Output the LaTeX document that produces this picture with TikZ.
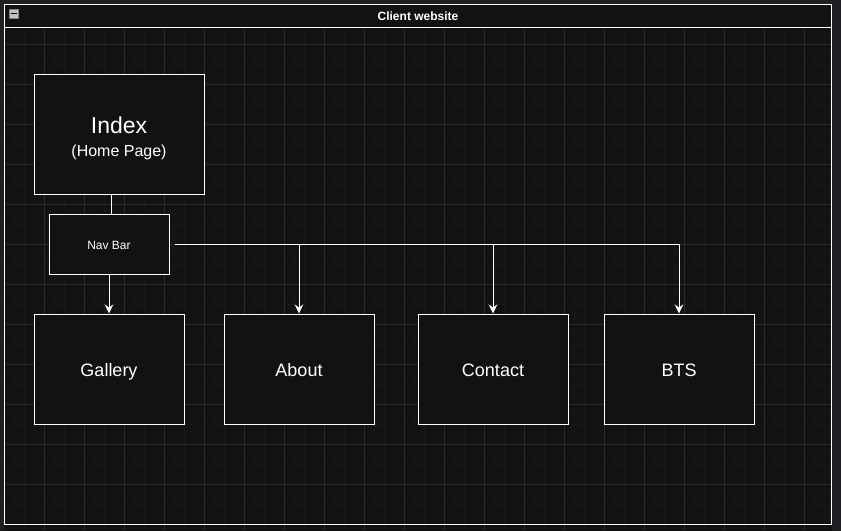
\documentclass[tikz,border=0pt]{standalone}
\usepackage{fontspec}
\setmainfont{Liberation Sans}
\usetikzlibrary{arrows.meta}
\usetikzlibrary{positioning}

\definecolor{canvas}{HTML}{121212}
\definecolor{edgegray}{HTML}{1E1F22}
\definecolor{minorgrid}{HTML}{181818}
\definecolor{majorgrid}{HTML}{2A2A2A}

\tikzset{
	page/.style={draw=white, line width=1pt, fill=canvas, text=white, minimum width=150pt, minimum height=110pt, inner sep=0pt, text height=15.5pt, text depth=0pt, font=\fontsize{18}{21}\selectfont},
	link/.style={draw=white, line width=1pt, -{Stealth[length=9pt,width=8.5pt,inset=3pt]}},
}

\begin{document}
\begin{tikzpicture}[x=1pt,y=-1pt]
	\useasboundingbox (0,0) rectangle (841,531);
	\fill[canvas] (0,0) rectangle (841,531);
	\foreach \gx in {4,14,...,834} \draw[minorgrid, line width=1pt] (\gx,0) -- (\gx,531);
	\foreach \gy in {4,14,...,524} \draw[minorgrid, line width=1pt] (0,\gy) -- (841,\gy);
	\foreach \gx in {44,84,...,804} \draw[majorgrid, line width=1pt] (\gx,0) -- (\gx,531);
	\foreach \gy in {44,84,...,524} \draw[majorgrid, line width=1pt] (0,\gy) -- (841,\gy);
	\fill[edgegray] (0,0) rectangle (841,4);
	\fill[edgegray] (0,0) rectangle (4,531);
	\fill[edgegray] (832,0) rectangle (841,531);

	\draw[white, line width=1pt, fill=canvas] (4,4) rectangle (831,27);
	\draw[white, line width=1pt] (4,4) rectangle (831,524);
	\node[text=white, font=\bfseries\fontsize{12}{14}\selectfont] (title) at (418,16) {Client website};
	\node[draw=gray, fill=lightgray, minimum size=9pt, inner sep=0pt] (fold) at (13.5,13.5) {};
	\draw[black, line width=1.2pt] ([xshift=-3pt]fold.center) -- ([xshift=3pt]fold.center);

	\node[page, minimum width=170pt, minimum height=120pt, text height=, text depth=, align=center] (index) at (119,134) {{\fontsize{23}{26}\selectfont\rule{0pt}{25pt}Index}\\[2pt]{\fontsize{16}{19}\selectfont (Home Page)}};
	\node[page, minimum width=120pt, minimum height=60pt, text height=10pt, font=\fontsize{12}{14}\selectfont] (navbar) at (109,244) {Nav Bar};
	\node[page] (gallery) at (109,369) {Gallery};
	\node[page] (about) at (299,369) {About};
	\node[page] (contact) at (493,369) {Contact};
	\node[page] (bts) at (679,369) {BTS};

	\draw[white, line width=1pt] ([xshift=2pt]navbar.north) -- ([xshift=2pt]navbar.north |- index.south);
	\draw[link] (navbar) -- (gallery);
	\draw[link] ([xshift=5pt]navbar.east) -| (bts);
	\draw[link] (navbar.east -| about.north) -- (about);
	\draw[link] (navbar.east -| contact.north) -- (contact);
\end{tikzpicture}
\end{document}
